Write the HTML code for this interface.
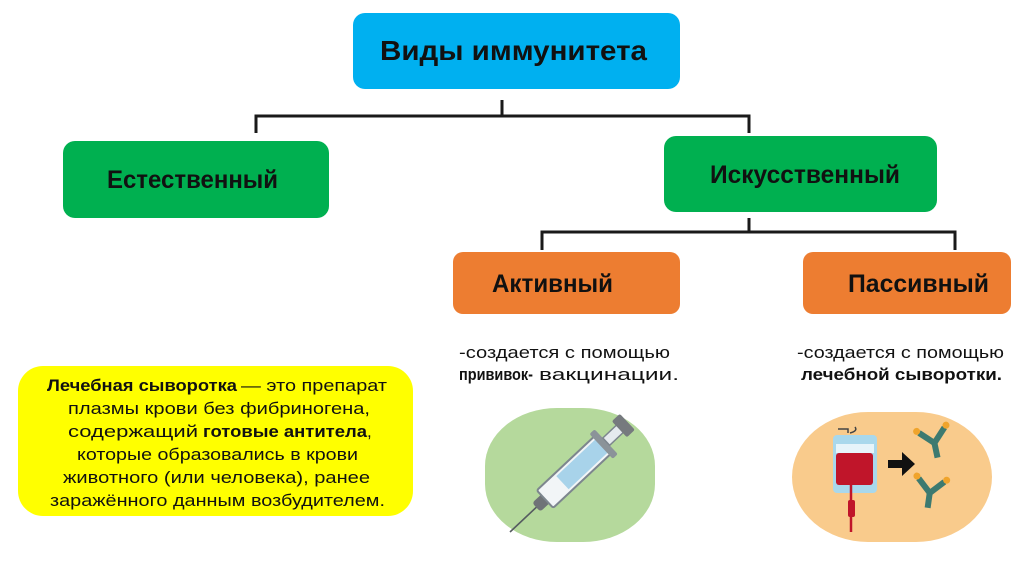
<!DOCTYPE html>
<html>
<head>
<meta charset="utf-8">
<style>
  html, body { margin: 0; padding: 0; background: #ffffff; }
  body { width: 1024px; height: 574px; overflow: hidden; }
  svg { display: block; }
  text { font-family: "Liberation Sans", "DejaVu Sans", sans-serif; fill: #111; }
  .b { font-weight: bold; }
</style>
</head>
<body>
<svg width="1024" height="574" viewBox="0 0 1024 574" xmlns="http://www.w3.org/2000/svg">
  <rect x="0" y="0" width="1024" height="574" fill="#ffffff"/>

  <!-- connectors -->
  <g stroke="#1a1a1a" stroke-width="3" fill="none">
    <line x1="502" y1="100" x2="502" y2="116"/>
    <polyline points="256,133 256,116 749,116 749,133"/>
    <line x1="749" y1="218" x2="749" y2="232"/>
    <polyline points="542,250 542,232 955,232 955,250"/>
  </g>

  <!-- top box -->
  <rect x="353" y="13" width="327" height="76" rx="12" fill="#00b0f0"/>
  <text class="b" x="380" y="60" font-size="28" textLength="267" lengthAdjust="spacingAndGlyphs">Виды иммунитета</text>

  <!-- green boxes -->
  <rect x="63" y="141" width="266" height="77" rx="12" fill="#00b050"/>
  <text class="b" x="107" y="188" font-size="25" textLength="171" lengthAdjust="spacingAndGlyphs">Естественный</text>

  <rect x="664" y="136" width="273" height="76" rx="12" fill="#00b050"/>
  <text class="b" x="710" y="183" font-size="25" textLength="190" lengthAdjust="spacingAndGlyphs">Искусственный</text>

  <!-- orange boxes -->
  <rect x="453" y="252" width="227" height="62" rx="10" fill="#ed7d31"/>
  <text class="b" x="492" y="292" font-size="25" textLength="121" lengthAdjust="spacingAndGlyphs">Активный</text>

  <rect x="803" y="252" width="208" height="62" rx="10" fill="#ed7d31"/>
  <text class="b" x="848" y="292" font-size="25" textLength="141" lengthAdjust="spacingAndGlyphs">Пассивный</text>

  <!-- descriptions -->
  <text x="459" y="358" font-size="17" textLength="211" lengthAdjust="spacingAndGlyphs">-создается с помощью</text>
  <text class="b" x="459" y="380" font-size="17" textLength="74" lengthAdjust="spacingAndGlyphs">прививок-</text>
  <text x="539" y="380" font-size="17" textLength="140" lengthAdjust="spacingAndGlyphs">вакцинации.</text>

  <text x="797" y="358" font-size="17" textLength="207" lengthAdjust="spacingAndGlyphs">-создается с помощью</text>
  <text class="b" x="801" y="380" font-size="17" textLength="201" lengthAdjust="spacingAndGlyphs">лечебной сыворотки.</text>

  <!-- yellow box -->
  <rect x="18" y="366" width="395" height="150" rx="25" fill="#ffff00"/>
  <text class="b" x="47" y="391" font-size="17" textLength="190" lengthAdjust="spacingAndGlyphs">Лечебная сыворотка</text>
  <text x="241" y="391" font-size="17" textLength="146" lengthAdjust="spacingAndGlyphs">— это препарат</text>
  <text x="68" y="414" font-size="17" textLength="302" lengthAdjust="spacingAndGlyphs">плазмы крови без фибриногена,</text>
  <text x="68" y="437" font-size="17" textLength="130" lengthAdjust="spacingAndGlyphs">содержащий</text>
  <text class="b" x="203" y="437" font-size="17" textLength="164" lengthAdjust="spacingAndGlyphs">готовые антитела</text>
  <text x="367" y="437" font-size="17">,</text>
  <text x="77" y="460" font-size="17" textLength="281" lengthAdjust="spacingAndGlyphs">которые образовались в крови</text>
  <text x="63" y="483" font-size="17" textLength="307" lengthAdjust="spacingAndGlyphs">животного (или человека), ранее</text>
  <text x="50" y="506" font-size="17" textLength="335" lengthAdjust="spacingAndGlyphs">заражённого данным возбудителем.</text>

  <!-- green blob with syringe -->
  <rect x="485" y="408" width="170" height="134" rx="72" ry="58" fill="#b5d99c"/>
  <g transform="translate(510,532) rotate(-43.2)">
    <line x1="0" y1="0" x2="40" y2="0" stroke="#555b60" stroke-width="1.6"/>
    <rect x="36" y="-6" width="14" height="12" rx="3" fill="#6f7377"/>
    <rect x="48" y="-12" width="80" height="24" rx="2" fill="#f2f5f7" stroke="#7d868e" stroke-width="2"/>
    <rect x="72" y="-9" width="54" height="18" fill="#a8d3ea"/>
    <rect x="125" y="-17" width="7" height="34" rx="2" fill="#8b9399"/>
    <rect x="132" y="-5" width="19" height="10" fill="#e5eaee" stroke="#7d868e" stroke-width="1.5"/>
    <rect x="150" y="-11" width="11" height="22" rx="2" fill="#767a7e"/>
  </g>

  <!-- orange blob with blood bag and antibodies -->
  <rect x="792" y="412" width="200" height="130" rx="76" ry="65" fill="#f9cb8c"/>
  <path d="M838 429 h10 v4 M850 433 q8 -2 5 -6" stroke="#444" stroke-width="1.5" fill="none"/>
  <rect x="833" y="435" width="44" height="58" rx="4" fill="#a9d8ec"/>
  <rect x="836" y="444" width="38" height="9" fill="#e6f4fa"/>
  <rect x="836" y="453" width="37" height="32" rx="3" fill="#c0152a"/>
  <line x1="851" y1="485" x2="851" y2="532" stroke="#c0152a" stroke-width="2.5"/>
  <rect x="848" y="500" width="7" height="17" rx="2" fill="#c0152a"/>
  <!-- arrow -->
  <path d="M888 460 h14 v-8 l13 12 l-13 12 v-8 h-14 z" fill="#111"/>
  <!-- antibody 1 -->
  <g transform="translate(934,441) rotate(-12)">
    <line x1="0" y1="0" x2="0" y2="17" stroke="#3d7a70" stroke-width="6"/>
    <line x1="0" y1="2" x2="-13" y2="-11" stroke="#3d7a70" stroke-width="6"/>
    <line x1="0" y1="2" x2="13" y2="-11" stroke="#3d7a70" stroke-width="6"/>
    <circle cx="-15" cy="-13" r="3.5" fill="#f0a42c"/>
    <circle cx="15" cy="-13" r="3.5" fill="#f0a42c"/>
  </g>
  <!-- antibody 2 -->
  <g transform="translate(930,491) rotate(8)">
    <line x1="0" y1="0" x2="0" y2="17" stroke="#3d7a70" stroke-width="6"/>
    <line x1="0" y1="2" x2="-13" y2="-11" stroke="#3d7a70" stroke-width="6"/>
    <line x1="0" y1="2" x2="13" y2="-11" stroke="#3d7a70" stroke-width="6"/>
    <circle cx="-15" cy="-13" r="3.5" fill="#f0a42c"/>
    <circle cx="15" cy="-13" r="3.5" fill="#f0a42c"/>
  </g>
</svg>
</body>
</html>
